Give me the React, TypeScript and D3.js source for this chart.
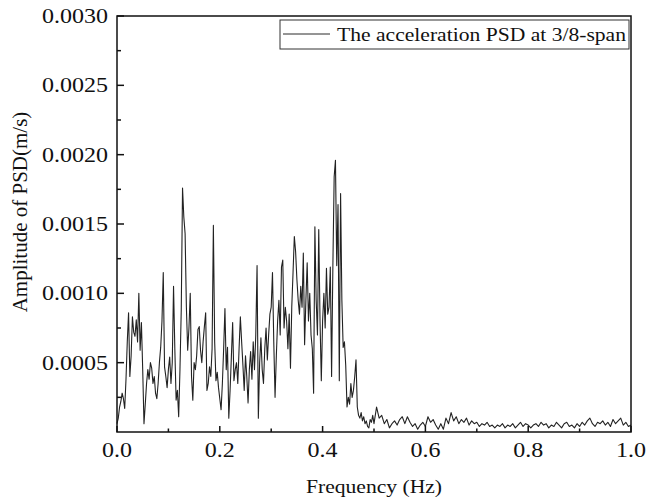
import React, { useRef, useEffect } from 'react';
import * as d3 from 'd3';

// PSD amplitude in units of 1e-4 m/s
// band 1: 0.000 .. 0.500 Hz, step 0.0025 Hz
const lowBandStep = 0.0025;
const lowBand = [
  0.6, 1.0, 1.8, 2.2, 2.8, 2.4, 1.7, 3.8, 6.5, 8.6,
  4.0, 5.5, 8.3, 7.2, 6.9, 8.1, 6.5, 10.0, 5.9, 7.9,
  4.5, 0.6, 2.0, 3.5, 4.5, 3.8, 5.0, 4.6, 3.5, 4.0,
  2.8, 2.4, 3.5, 5.0, 6.1, 8.0, 11.5, 4.7, 4.0, 3.2,
  4.5, 5.4, 3.5, 5.0, 10.5, 6.0, 2.3, 3.0, 1.1, 4.5,
  8.8, 17.6, 15.5, 14.3, 9.0, 5.9, 7.5, 10.0, 4.0, 2.3,
  5.0, 4.5, 5.5, 7.4, 7.6, 5.9, 5.0, 6.5, 7.6, 8.6,
  3.0, 3.5, 4.7, 4.0, 6.0, 14.9, 6.5, 3.7, 4.3, 3.2,
  2.4, 1.6, 3.5, 6.0, 8.9, 4.5, 6.1, 1.0, 3.0, 5.4,
  7.9, 3.7, 4.5, 5.0, 3.5, 6.0, 8.3, 6.5, 4.8, 3.0,
  5.5, 4.0, 2.1, 4.5, 5.8, 3.8, 6.5, 4.5, 7.0, 12.0,
  1.0, 5.0, 6.8, 4.5, 3.5, 6.0, 7.5, 5.2, 7.0, 8.5,
  9.0, 11.5, 6.5, 2.5, 5.5, 8.0, 9.5, 7.0, 11.9, 12.4,
  7.5, 9.0, 8.0, 6.0, 8.5, 4.6, 9.0, 11.5, 14.1, 13.0,
  11.0, 9.5, 8.5, 10.5, 9.0, 12.9, 6.3, 9.5, 12.2, 8.0,
  10.0, 7.0, 6.0, 2.8, 14.8, 9.5, 7.0, 14.6, 8.0, 3.7,
  8.0, 10.0, 7.5, 11.8, 8.5, 9.0, 11.9, 4.0, 12.0, 18.4,
  19.6, 12.0, 16.4, 3.7, 17.2, 9.5, 6.1, 6.5, 4.8, 1.8,
  2.5, 2.0, 3.5, 2.5, 3.0, 4.0, 5.2, 1.8, 1.2, 1.0,
  1.4, 0.8, 1.1, 0.6, 0.8, 0.4, 0.3, 0.9, 0.7, 1.2,
  0.6,
];
// band 2: 0.505 .. 1.000 Hz, step 0.005 Hz
const highBandStart = 0.505;
const highBandStep = 0.005;
const highBand = [
  1.8, 1.0, 1.2, 0.6, 0.9, 0.3, 0.6, 0.8, 0.5, 0.9,
  1.1, 0.6, 1.1, 0.7, 0.4, 0.6, 0.2, 0.5, 0.7, 0.4,
  1.1, 0.7, 0.9, 0.5, 0.2, 0.6, 0.2, 1.0, 0.6, 1.4,
  0.8, 1.1, 0.6, 0.9, 0.7, 1.0, 0.5, 0.8, 0.6, 0.7,
  0.4, 0.6, 0.5, 0.7, 0.4, 0.5, 0.3, 0.5, 0.4, 0.6,
  0.3, 0.5, 0.4, 0.6, 0.3, 0.5, 0.7, 0.4, 0.6, 0.5,
  0.3, 0.5, 0.6, 0.4, 0.7, 0.5, 0.6, 0.3, 0.5, 0.4,
  0.7, 0.5, 0.3, 0.6, 0.7, 0.4, 0.5, 0.3, 0.6, 0.4,
  0.7, 0.5, 0.8, 1.0, 0.6, 0.4, 0.7, 0.6, 0.8, 0.5,
  0.7, 0.4, 0.9, 0.6, 0.8, 1.0, 0.5, 0.7, 0.4, 0.5,
];
const valueUnit = 1e-4;

const xTicks = [0, 0.2, 0.4, 0.6, 0.8, 1.0];
const xMinorTicks = [0.1, 0.3, 0.5, 0.7, 0.9];
const yTicks = [0.0005, 0.001, 0.0015, 0.002, 0.0025, 0.003];
const yMinorTicks = [0.00025, 0.00075, 0.00125, 0.00175, 0.00225, 0.00275];

const legendLabel = 'The acceleration PSD at 3/8-span';
const xTitle = 'Frequency (Hz)';
const yTitle = 'Amplitude of PSD(m/s)';

const App = () => {
  const ref = useRef(null);

  useEffect(() => {
    const svg = d3.select(ref.current);
    svg.selectAll('*').remove();

    const width = 648;
    const height = 503;
    const margin = { top: 16, right: 17, bottom: 71, left: 117 };
    const iw = width - margin.left - margin.right;
    const ih = height - margin.top - margin.bottom;
    const font = '"Liberation Serif", "Times New Roman", serif';
    const stretch = 1.2;

    const data = [
      ...lowBand.map((v, i) => ({ f: i * lowBandStep, v: v * valueUnit })),
      ...highBand.map((v, i) => ({ f: highBandStart + i * highBandStep, v: v * valueUnit })),
    ];

    const x = d3.scaleLinear().domain([0, 1]).range([0, iw]);
    const y = d3.scaleLinear().domain([0, 0.003]).range([ih, 0]);

    const g = svg.append('g').attr('transform', `translate(${margin.left},${margin.top})`);

    // Line
    const line = d3.line<any>().x(d => x(d.f)).y(d => y(d.v));
    g.append('path')
      .datum(data)
      .attr('fill', 'none')
      .attr('stroke', '#222')
      .attr('stroke-width', 1.1)
      .attr('stroke-linejoin', 'round')
      .attr('d', line);

    // Frame
    g.append('rect')
      .attr('width', iw)
      .attr('height', ih)
      .attr('fill', 'none')
      .attr('stroke', '#111')
      .attr('stroke-width', 1.5);

    // Ticks (inward)
    g.selectAll('.xt').data(xTicks).enter().append('line')
      .attr('x1', d => x(d)).attr('x2', d => x(d))
      .attr('y1', ih).attr('y2', ih - 6)
      .attr('stroke', '#111').attr('stroke-width', 1.5);
    g.selectAll('.xm').data(xMinorTicks).enter().append('line')
      .attr('x1', d => x(d)).attr('x2', d => x(d))
      .attr('y1', ih).attr('y2', ih - 3.5)
      .attr('stroke', '#111').attr('stroke-width', 1.5);
    g.selectAll('.yt').data(yTicks).enter().append('line')
      .attr('x1', 0).attr('x2', 7)
      .attr('y1', d => y(d)).attr('y2', d => y(d))
      .attr('stroke', '#111').attr('stroke-width', 1.5);
    g.selectAll('.ym').data(yMinorTicks).enter().append('line')
      .attr('x1', 0).attr('x2', 4)
      .attr('y1', d => y(d)).attr('y2', d => y(d))
      .attr('stroke', '#111').attr('stroke-width', 1.5);

    // Tick labels
    g.selectAll('.xl').data(xTicks).enter().append('text')
      .attr('transform', d => `translate(${x(d)},${ih + 25}) scale(${stretch},1)`)
      .attr('text-anchor', 'middle')
      .attr('font-family', font)
      .attr('font-size', 20)
      .attr('fill', '#111')
      .text(d => d3.format('.1f')(d));
    g.selectAll('.yl').data(yTicks).enter().append('text')
      .attr('transform', d => `translate(-9,${y(d) + 7}) scale(${stretch},1)`)
      .attr('text-anchor', 'end')
      .attr('font-family', font)
      .attr('font-size', 20)
      .attr('fill', '#111')
      .text(d => d3.format('.4f')(d));

    // Axis titles
    g.append('text')
      .attr('transform', `translate(${iw / 2},${ih + 61}) scale(${stretch},1)`)
      .attr('text-anchor', 'middle')
      .attr('font-family', font)
      .attr('font-size', 18)
      .attr('fill', '#111')
      .text(xTitle);
    g.append('text')
      .attr('transform', `translate(${27 - margin.left},${ih / 2 - 12}) rotate(-90)`)
      .attr('text-anchor', 'middle')
      .attr('font-family', font)
      .attr('font-size', 21)
      .attr('fill', '#111')
      .text(yTitle);

    // Legend
    const lg = g.append('g').attr('transform', `translate(${280 - margin.left},${20 - margin.top})`);
    lg.append('rect')
      .attr('width', 349).attr('height', 29)
      .attr('fill', '#fff').attr('stroke', '#333').attr('stroke-width', 1);
    lg.append('line')
      .attr('x1', 3).attr('x2', 50).attr('y1', 14).attr('y2', 14)
      .attr('stroke', '#2a2a2a').attr('stroke-width', 1);
    lg.append('text')
      .attr('transform', `translate(57,21) scale(${stretch},1)`)
      .attr('font-family', font)
      .attr('font-size', 18)
      .attr('fill', '#111')
      .text(legendLabel);
  }, []);

  return (
    <svg
      ref={ref}
      width={648}
      height={503}
      style={{ position: 'absolute', left: 0, top: 0, background: '#fff' }}
    />
  );
};

export default App;
